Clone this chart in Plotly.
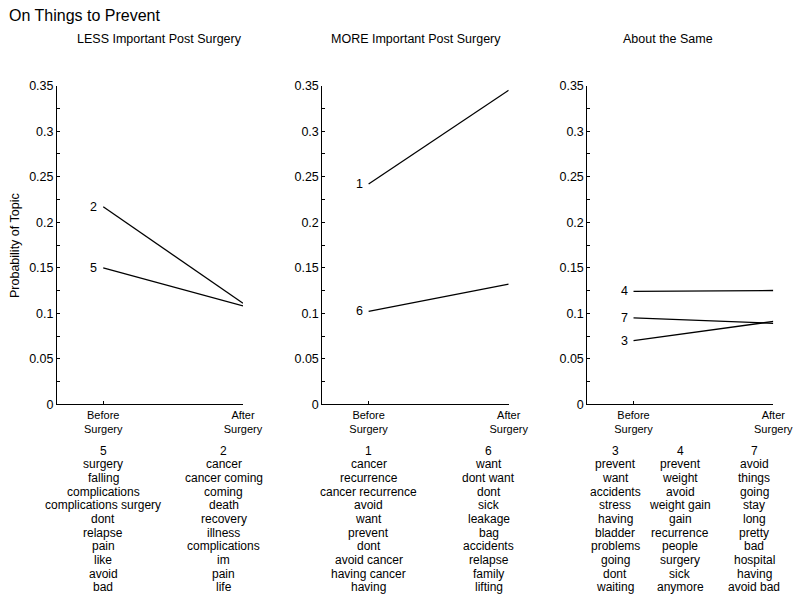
import plotly.graph_objects as go

# ---------------- data ----------------
x_labels = ["Before<br>Surgery", "After<br>Surgery"]
panel_titles = ["LESS Important Post Surgery", "MORE Important Post Surgery", "About the Same"]

p1_topics = ["2", "5"]
p1_before = [0.217, 0.150]
p1_after = [0.111, 0.108]

p2_topics = ["1", "6"]
p2_before = [0.242, 0.102]
p2_after = [0.345, 0.132]

p3_topics = ["4", "7", "3"]
p3_before = [0.124, 0.095, 0.070]
p3_after = [0.125, 0.089, 0.091]

words_5 = ["surgery", "falling", "complications", "complications surgery", "dont",
           "relapse", "pain", "like", "avoid", "bad"]
words_2 = ["cancer", "cancer coming", "coming", "death", "recovery", "illness",
           "complications", "im", "pain", "life"]
words_1 = ["cancer", "recurrence", "cancer recurrence", "avoid", "want", "prevent",
           "dont", "avoid cancer", "having cancer", "having"]
words_6 = ["want", "dont want", "dont", "sick", "leakage", "bag", "accidents",
           "relapse", "family", "lifting"]
words_3 = ["prevent", "want", "accidents", "stress", "having", "bladder", "problems",
           "going", "dont", "waiting"]
words_4 = ["prevent", "weight", "avoid", "weight gain", "gain", "recurrence", "people",
           "surgery", "sick", "anymore"]
words_7 = ["avoid", "things", "going", "stay", "long", "pretty", "bad", "hospital",
           "having", "avoid bad"]

# ---------------- layout helpers ----------------
W, H = 800, 602
FONT = "Liberation Sans, Arial, Helvetica, sans-serif"
x_pos = [1, 2]

panels = [
    (p1_topics, p1_before, p1_after),
    (p2_topics, p2_before, p2_after),
    (p3_topics, p3_before, p3_after),
]
# pixel positions of each panel's y-axis line and right end
panel_px = [(57.0, 243.0), (322.3, 508.7), (587.3, 773.3)]
y_top_px, y_bot_px = 85.7, 404.3
xrange_ = [1 - 46.3 / 140.0, 2]

fig = go.Figure()
annotations = []

for i, (topics, before, after) in enumerate(panels):
    ax = "" if i == 0 else str(i + 1)
    for t, b, a in zip(topics, before, after):
        fig.add_trace(go.Scatter(
            x=x_pos, y=[b, a], mode="lines",
            line=dict(color="black", width=1.3),
            xaxis="x" + ax, yaxis="y" + ax, showlegend=False,
            cliponaxis=False, hoverinfo="skip"))
        annotations.append(dict(
            x=x_pos[0], y=b, xref="x" + ax, yref="y" + ax, text=t,
            showarrow=False, xanchor="right", yanchor="middle", xshift=-4,
            font=dict(family=FONT, size=12.5, color="black")))

    x0, x1 = panel_px[i]
    xa = dict(domain=[x0 / W, x1 / W], range=xrange_, anchor="y" + ax,
              automargin=False,
              tickmode="array", tickvals=x_pos, ticktext=x_labels,
              ticks="inside", ticklen=3, tickcolor="black", showline=True,
              linecolor="black", linewidth=1, showgrid=False, zeroline=False,
              tickfont=dict(family=FONT, size=11, color="black"))
    ya = dict(domain=[1 - y_bot_px / H, 1 - y_top_px / H], range=[0, 0.35],
              anchor="x" + ax, automargin=False,
              tick0=0, dtick=0.05, ticks="inside", ticklen=3,
              tickcolor="black", showline=True, linecolor="black", linewidth=1,
              showgrid=False, zeroline=False,
              minor=dict(dtick=0.025, ticks="inside", ticklen=3, tickcolor="black",
                         showgrid=False),
              tickfont=dict(family=FONT, size=12.5, color="black"))
    fig.update_layout(**{"xaxis" + ax: xa, "yaxis" + ax: ya})

# panel titles
title_px = [159, 416, 668]
for tx, tt in zip(title_px, panel_titles):
    annotations.append(dict(x=tx / W, y=1 - 39.5 / H, xref="paper", yref="paper",
                            text=tt, showarrow=False, xanchor="center", yanchor="middle",
                            font=dict(family=FONT, size=12.5, color="black")))

# main title
annotations.append(dict(x=7 / W, y=1 - 15.5 / H, xref="paper", yref="paper",
                        text="On Things to Prevent", showarrow=False,
                        xanchor="left", yanchor="middle",
                        font=dict(family=FONT, size=16, color="black")))

# y axis title
annotations.append(dict(x=15 / W, y=1 - 246 / H, xref="paper", yref="paper",
                        text="Probability of Topic", showarrow=False, textangle=-90,
                        xanchor="center", yanchor="middle",
                        font=dict(family=FONT, size=12.5, color="black")))

# word lists below each panel
word_columns = [
    ("x", 1.0, "5", words_5),
    ("x", 1.864, "2", words_2),
    ("x2", 1.0, "1", words_1),
    ("x2", 1.857, "6", words_6),
    ("x3", 0.869, "3", words_3),
    ("x3", 1.334, "4", words_4),
    ("x3", 1.864, "7", words_7),
]
row0_px, row_step = 450.5, 13.67
for xref, xv, head, words in word_columns:
    for r, w in enumerate([head] + words):
        annotations.append(dict(x=xv, y=1 - (row0_px + r * row_step) / H,
                                xref=xref, yref="paper", text=w, showarrow=False,
                                xanchor="center", yanchor="middle",
                                font=dict(family=FONT, size=12, color="black")))

fig.update_layout(
    template="none",
    width=W, height=H, margin=dict(l=0, r=0, t=0, b=0, autoexpand=False),
    paper_bgcolor="white", plot_bgcolor="white",
    annotations=annotations, showlegend=False,
)

fig.write_html(
    "out.html",
    config={"displayModeBar": False},
    post_script="document.body.style.margin='0px';document.body.style.padding='0px';"
                "document.body.style.overflow='hidden';",
)
